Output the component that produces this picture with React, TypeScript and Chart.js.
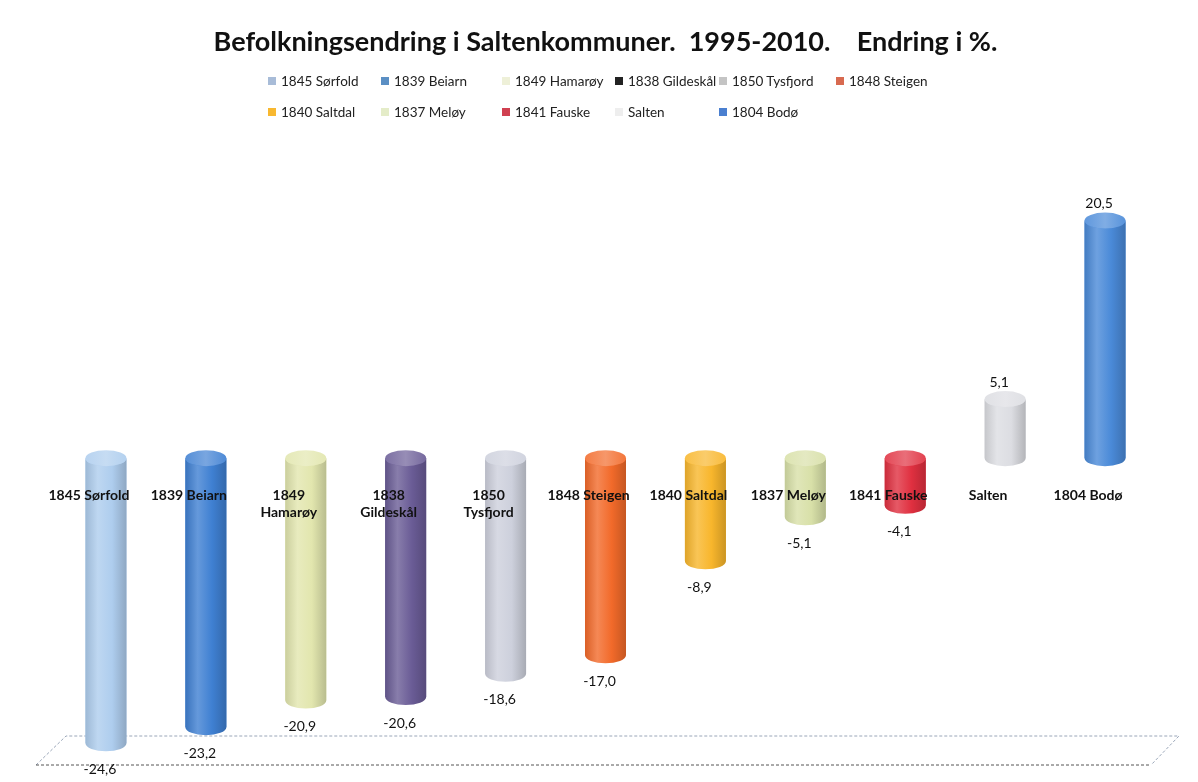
import React, { useEffect, useRef } from "react";
import { Chart, registerables } from "chart.js";

Chart.register(...registerables);

// ---------- data ----------
const categoryLabels: string[][] = [
  ["1845 Sørfold"],
  ["1839 Beiarn"],
  ["1849", "Hamarøy"],
  ["1838", "Gildeskål"],
  ["1850", "Tysfjord"],
  ["1848 Steigen"],
  ["1840 Saltdal"],
  ["1837 Meløy"],
  ["1841 Fauske"],
  ["Salten"],
  ["1804 Bodø"],
];

const legendNames: string[] = [
  "1845 Sørfold",
  "1839 Beiarn",
  "1849 Hamarøy",
  "1838 Gildeskål",
  "1850 Tysfjord",
  "1848 Steigen",
  "1840 Saltdal",
  "1837 Meløy",
  "1841 Fauske",
  "Salten",
  "1804 Bodø",
];

const changePct: number[] = [-24.6, -23.2, -20.9, -20.6, -18.6, -17.0, -8.9, -5.1, -4.1, 5.1, 20.5];

const barColors: string[] = [
  "#aecdee",
  "#3f80d2",
  "#e2e6ae",
  "#6a5c96",
  "#cdd0dc",
  "#f26a2a",
  "#f8b62c",
  "#d8e0a8",
  "#e03040",
  "#dcdde2",
  "#4a8ad8",
];

const legendColors: string[] = [
  "#a8bcd8",
  "#5b8fc4",
  "#eef0d8",
  "#222222",
  "#c4c4c4",
  "#d86a50",
  "#f8b830",
  "#e4ecc8",
  "#d04050",
  "#eeeeee",
  "#4a7fd0",
];

const yMin = -25;
const yMax = 25;

const titleText = "Befolkningsendring i Saltenkommuner.  1995-2010.    Endring i %.";

// ---------- helpers ----------
function hexToRgb(h: string): [number, number, number] {
  const s = h.replace("#", "");
  return [parseInt(s.slice(0, 2), 16), parseInt(s.slice(2, 4), 16), parseInt(s.slice(4, 6), 16)];
}
function mix(h: string, to: string, t: number): string {
  const a = hexToRgb(h);
  const b = hexToRgb(to);
  const c = a.map((v, i) => Math.round(v + (b[i] - v) * t));
  return `rgb(${c[0]},${c[1]},${c[2]})`;
}
const fmt = (v: number) => v.toFixed(1).replace(".", ",");

const RY = 8;

const floorPlugin = {
  id: "floor3d",
  beforeDatasetsDraw(chart: any) {
    const { ctx, chartArea } = chart;
    const backY = chartArea.bottom - 12;
    const frontY = chartArea.bottom + 17;
    ctx.save();
    ctx.lineWidth = 1;
    ctx.setLineDash([3, 2]);
    ctx.strokeStyle = "#9aa6b8";
    ctx.beginPath();
    ctx.moveTo(chartArea.left - 20, frontY);
    ctx.lineTo(chartArea.left + 10, backY);
    ctx.lineTo(chartArea.right + 24, backY);
    ctx.lineTo(chartArea.right - 4, frontY);
    ctx.stroke();
    ctx.strokeStyle = "#555";
    ctx.beginPath();
    ctx.moveTo(chartArea.left - 20, frontY);
    ctx.lineTo(chartArea.right - 4, frontY);
    ctx.stroke();
    ctx.restore();
  },
};

const cylinderPlugin = {
  id: "cylinders",
  afterDatasetsDraw(chart: any) {
    const ctx = chart.ctx;
    const meta = chart.getDatasetMeta(0);
    meta.data.forEach((el: any, i: number) => {
      const { x, y, base, width } = el.getProps(["x", "y", "base", "width"], true);
      const top = Math.min(y, base);
      const bot = Math.max(y, base);
      const rx = width / 2;
      const col = barColors[i];
      const g = ctx.createLinearGradient(x - rx, 0, x + rx, 0);
      g.addColorStop(0, mix(col, "#000000", 0.1));
      g.addColorStop(0.3, mix(col, "#ffffff", 0.2));
      g.addColorStop(0.65, col);
      g.addColorStop(1, mix(col, "#000000", 0.18));
      ctx.save();
      ctx.fillStyle = g;
      ctx.beginPath();
      ctx.moveTo(x - rx, top);
      ctx.lineTo(x - rx, bot);
      ctx.ellipse(x, bot, rx, RY, 0, Math.PI, 0, true);
      ctx.lineTo(x + rx, top);
      ctx.ellipse(x, top, rx, RY, 0, 0, Math.PI, false);
      ctx.closePath();
      ctx.fill();
      // top cap
      const g2 = ctx.createLinearGradient(x - rx, 0, x + rx, 0);
      g2.addColorStop(0, mix(col, "#ffffff", 0.12));
      g2.addColorStop(0.5, mix(col, "#ffffff", 0.3));
      g2.addColorStop(1, mix(col, "#ffffff", 0.08));
      ctx.fillStyle = g2;
      ctx.beginPath();
      ctx.ellipse(x, top, rx, RY, 0, 0, Math.PI * 2);
      ctx.fill();
      ctx.restore();
    });
  },
};

const valueLabelPlugin = {
  id: "valueLabels",
  afterDraw(chart: any) {
    const ctx = chart.ctx;
    const meta = chart.getDatasetMeta(0);
    ctx.save();
    ctx.font = "14px Lato";
    ctx.fillStyle = "#111";
    ctx.textAlign = "center";
    ctx.textBaseline = "middle";
    meta.data.forEach((el: any, i: number) => {
      const v = changePct[i];
      const { x, y } = el.getProps(["x", "y"], true);
      const ty = v < 0 ? y + 26 : y - 17;
      ctx.fillText(fmt(v), x - 6, ty);
    });
    ctx.restore();
  },
};

export default function App() {
  const ref = useRef<HTMLCanvasElement | null>(null);

  useEffect(() => {
    document.documentElement.style.overflow = "hidden";
    if (!ref.current) return;
    const chart = new Chart(ref.current, {
      type: "bar",
      data: {
        labels: categoryLabels,
        datasets: [
          {
            label: "Endring i %",
            data: changePct,
            backgroundColor: barColors,
            borderWidth: 0,
            barPercentage: 0.41,
            categoryPercentage: 1,
          },
        ],
      },
      options: {
        animation: false,
        responsive: false,
        devicePixelRatio: 1,
        layout: { padding: { left: 48, right: 35, top: 0, bottom: 32 } },
        plugins: {
          legend: { display: false },
          tooltip: { enabled: false },
          title: {
            display: true,
            text: titleText,
            color: "#111",
            font: { family: "Lato", size: 27, weight: "bold" },
            padding: { top: 18, bottom: 110 },
          },
        },
        scales: {
          x: {
            position: { y: 0 } as any,
            grid: { display: false, drawTicks: false },
            border: { display: false },
            afterFit: (scale: any) => {
              scale.height = 0;
            },
            ticks: {
              z: 5,
              autoSkip: false,
              maxRotation: 0,
              padding: 29,
              labelOffset: -17,
              color: "#111",
              font: { family: "Lato", size: 14, weight: "bold" },
            },
          },
          y: {
            display: false,
            min: yMin,
            max: yMax,
          },
        },
      },
      plugins: [floorPlugin, cylinderPlugin, valueLabelPlugin],
    });
    return () => chart.destroy();
  }, []);

  return (
    <div style={{ position: "relative", width: 1182, height: 772, background: "#fff" }}>
      <canvas ref={ref} width={1182} height={772} style={{ display: "block" }} />
      <div
        style={{
          position: "absolute",
          left: 260,
          top: 57,
          display: "grid",
          gridTemplateColumns: "113px 121px 113px 104px 117px auto",
          gridAutoRows: "31px",
          alignItems: "center",
          fontFamily: "Lato",
          fontSize: 13.5,
          color: "#222",
        }}
      >
        {legendNames.map((n, i) => (
          <div key={n} style={{ display: "flex", alignItems: "center", whiteSpace: "nowrap" }}>
            <span
              style={{
                display: "inline-block",
                width: 8,
                height: 8,
                background: legendColors[i],
                marginRight: 5,
              }}
            />
            <span>{n}</span>
          </div>
        ))}
      </div>
    </div>
  );
}
